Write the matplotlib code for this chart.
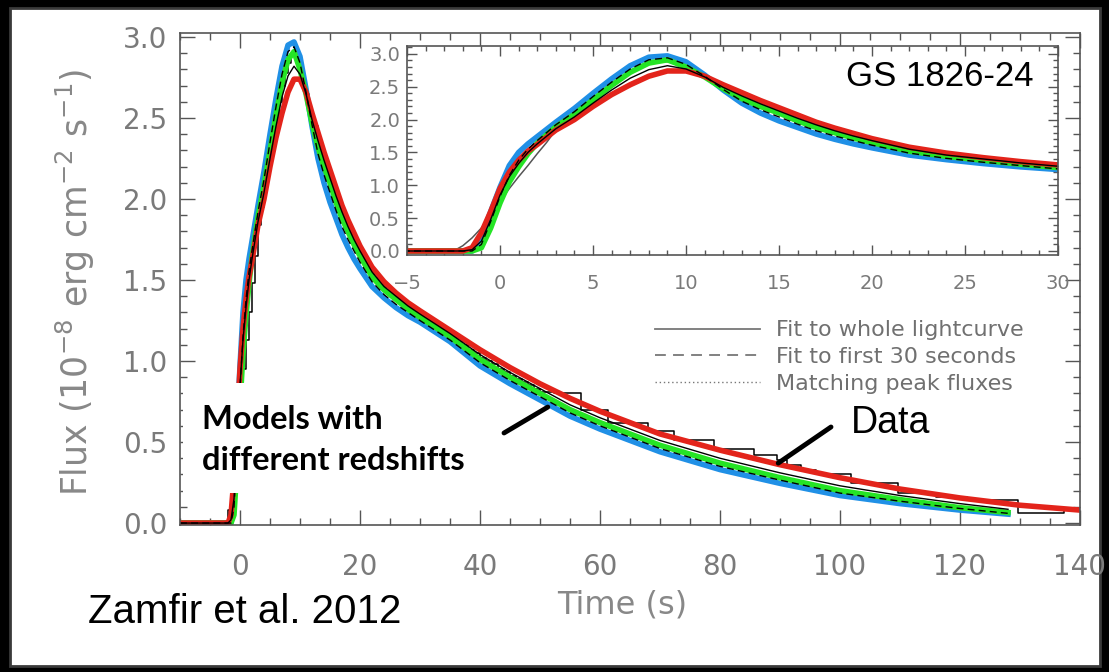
#=========================================================================
# Burst lightcurve of GS 1826-24 with model fits (Zamfir et al. 2012)
#=========================================================================

import matplotlib
matplotlib.use('Agg')
import matplotlib.pyplot as plt
from matplotlib.lines import Line2D
from matplotlib.patches import Rectangle
from matplotlib.ticker import MultipleLocator, FormatStrFormatter

# Model time grids (s)
t_short = [-10, -2.5, -2, -1.5, -1, -0.5, 0, 0.5, 1, 1.5, 2, 3, 4, 5, 6, 7, 8, 9,
           10, 11, 12, 13, 14, 15, 16, 17, 18, 19, 20, 22, 24, 26, 28, 30, 35,
           40, 45, 50, 55, 60, 70, 80, 90, 100, 110, 120, 128]
t_long = [-10, -2.5, -2, -1.5, -1, -0.5, 0, 0.5, 1, 1.5, 2, 3, 4, 5, 6, 7, 8, 9,
          10, 11, 12, 13, 14, 15, 16, 17, 18, 19, 20, 22, 24, 26, 28, 30, 35,
          40, 45, 50, 55, 60, 70, 80, 90, 100, 110, 120, 130, 140]

# Model fluxes (1e-8 erg cm^-2 s^-1) for the three redshifts
flux_blue = [0, 0, 0, 0, 0.2, 0.6, 0.97, 1.3, 1.5, 1.63, 1.74, 1.96, 2.17, 2.4,
             2.62, 2.82, 2.95, 2.97, 2.88, 2.68, 2.45, 2.25, 2.1, 1.98, 1.88,
             1.78, 1.7, 1.63, 1.57, 1.46, 1.39, 1.33, 1.28, 1.24, 1.12, 0.97,
             0.86, 0.76, 0.66, 0.58, 0.44, 0.33, 0.245, 0.17, 0.12, 0.08, 0.055]
flux_green = [0, 0, 0, 0, 0.05, 0.35, 0.73, 1.05, 1.28, 1.48, 1.64, 1.89, 2.08,
              2.3, 2.52, 2.72, 2.86, 2.91, 2.8, 2.65, 2.47, 2.32, 2.2, 2.1, 1.98,
              1.88, 1.8, 1.72, 1.65, 1.52, 1.44, 1.38, 1.32, 1.27, 1.15, 1.01,
              0.9, 0.8, 0.7, 0.62, 0.48, 0.37, 0.28, 0.2, 0.145, 0.095, 0.065]
flux_red = [0, 0, 0, 0.05, 0.28, 0.6, 0.95, 1.2, 1.38, 1.52, 1.62, 1.84, 2.0,
            2.2, 2.38, 2.53, 2.66, 2.74, 2.74, 2.66, 2.53, 2.41, 2.29, 2.18,
            2.07, 1.96, 1.87, 1.79, 1.71, 1.58, 1.49, 1.42, 1.36, 1.31, 1.19,
            1.07, 0.96, 0.86, 0.77, 0.69, 0.55, 0.45, 0.36, 0.28, 0.21, 0.155,
            0.11, 0.08]

# Black fit curves drawn over the coloured bands
fit_whole = [0, 0, 0, 0.02, 0.15, 0.48, 0.85, 1.13, 1.33, 1.5, 1.63, 1.86, 2.04,
             2.25, 2.45, 2.63, 2.76, 2.82, 2.77, 2.65, 2.49, 2.36, 2.24, 2.13,
             2.02, 1.92, 1.83, 1.75, 1.68, 1.55, 1.46, 1.4, 1.34, 1.29, 1.17,
             1.04, 0.93, 0.83, 0.73, 0.65, 0.51, 0.4, 0.31, 0.23, 0.17, 0.12,
             0.085]
fit_first30 = [0, 0, 0, 0, 0.1, 0.45, 0.83, 1.15, 1.38, 1.55, 1.68, 1.92, 2.12,
               2.35, 2.57, 2.77, 2.91, 2.94, 2.84, 2.66, 2.46, 2.28, 2.15, 2.04,
               1.93, 1.83, 1.75, 1.68, 1.61, 1.49, 1.41, 1.35, 1.3, 1.25, 1.13,
               0.99, 0.88, 0.78, 0.68, 0.6, 0.46, 0.35, 0.265, 0.185, 0.135,
               0.09, 0.06]

# Observed lightcurve (bin left edges, binned flux)
data_t = [-10, -2.5, -2, -1.5, -1, -0.5, 0, 0.5, 1, 1.5, 2, 2.5, 3, 3.5, 4, 4.5,
          5, 5.5, 6, 6.5, 7, 7.5, 8, 8.5, 9, 9.5, 10, 10.5, 11, 11.5,
          12, 13, 14, 15, 16, 17, 18, 19, 20, 21, 22, 23, 24, 25, 26, 27, 28,
          29, 30, 31, 32, 33, 34, 35, 36, 37, 38, 39, 40, 41, 42, 43, 44, 45,
          46, 47, 48, 49, 50,
          52.3, 56.8, 61.3, 68, 72.3, 79, 85.7, 89.5, 91.2, 93.5, 96, 101.8,
          109.6, 116, 121.2, 129.6, 137.4, 140]
data_f = [0, 0, 0.08, 0.2, 0.35, 0.55, 0.75, 0.95, 1.13, 1.3, 1.48, 1.65, 1.84,
          1.95, 2.06, 2.17, 2.28, 2.4, 2.5, 2.6, 2.7, 2.78, 2.84, 2.88, 2.88,
          2.85, 2.8, 2.73, 2.65, 2.56,
          2.45, 2.32, 2.2, 2.09, 1.98, 1.88, 1.8, 1.72, 1.65, 1.59, 1.54, 1.5,
          1.46, 1.42, 1.39, 1.36, 1.33, 1.3, 1.27, 1.25, 1.22, 1.2, 1.17, 1.15,
          1.12, 1.1, 1.07, 1.05, 1.02, 1.0, 0.98, 0.95, 0.93, 0.91, 0.89, 0.87,
          0.85, 0.83, 0.81,
          0.8, 0.70, 0.62, 0.57, 0.51, 0.46, 0.42, 0.39, 0.36, 0.33, 0.30, 0.25,
          0.185, 0.16, 0.14, 0.06, 0.08, 0.08]

legend_labels = ['Fit to whole lightcurve', 'Fit to first 30 seconds',
                 'Matching peak fluxes']

BLUE = '#2090e6'
GREEN = '#25e425'
RED = '#e3241b'
AXC = '#555555'
TXT = '#7a7a7a'

W, H = 1109, 672


def draw_curves(ax, lw_band, data_color, data_style):
    """Plot the model bands, black fits and the binned data on an axis."""

    ax.plot(data_t, data_f, color=data_color, lw=1.1, drawstyle=data_style,
            zorder=1.8)
    ax.plot(t_short, flux_blue, color=BLUE, lw=lw_band, solid_joinstyle='round')
    ax.plot(t_short, flux_green, color=GREEN, lw=lw_band, solid_joinstyle='round')
    ax.plot(t_long, flux_red, color=RED, lw=lw_band, solid_joinstyle='round')
    ax.plot(t_short, fit_whole, color='black', lw=1.0)
    ax.plot(t_short, fit_first30, color='black', lw=1.0, ls=(0, (5, 3)))


def style_axis(ax, size, major, minor, xpad, ypad):
    ax.tick_params(which='both', direction='in', top=True, right=True,
                   color=AXC, labelcolor=TXT, width=1)
    ax.tick_params(which='major', length=major, labelsize=size)
    ax.tick_params(which='minor', length=minor)
    ax.tick_params(axis='x', pad=xpad)
    ax.tick_params(axis='y', pad=ypad)
    for sp in ax.spines.values():
        sp.set_color(AXC)
        sp.set_linewidth(1.2)


fig = plt.figure(figsize=(W / 100, H / 100), dpi=100, facecolor='black')

# White slide panel
fig.patches.append(Rectangle((10 / W, 1 - 666 / H), 1090 / W, 658 / H,
                             transform=fig.transFigure, facecolor='white',
                             edgecolor='#3a3a3a', lw=2, zorder=-5))

# Main axes
ax = fig.add_axes([180 / W, 1 - 525 / H, 900 / W, 492 / H])
ax.set_facecolor('none')
draw_curves(ax, 4, 'black', 'steps-post')
ax.set_xlim(-10, 140)
ax.set_ylim(-0.012, 3.025)
ax.xaxis.set_major_locator(MultipleLocator(20))
ax.xaxis.set_minor_locator(MultipleLocator(5))
ax.yaxis.set_major_locator(MultipleLocator(0.5))
ax.yaxis.set_minor_locator(MultipleLocator(0.1))
ax.yaxis.set_major_formatter(FormatStrFormatter('%.1f'))
style_axis(ax, 20, 11, 5, 20, 9)

handles = [Line2D([], [], color='#777777', lw=1.3),
           Line2D([], [], color='#777777', lw=1.3, ls=(0, (6, 4))),
           Line2D([], [], color='#777777', lw=1.0, ls=(0, (1, 2)))]
ax.legend(handles, legend_labels, loc='upper left', bbox_to_anchor=(0.528, 0.416),
          frameon=False, fontsize=16, handlelength=4.7, handletextpad=0.75,
          labelspacing=0.3, borderpad=0, borderaxespad=0, labelcolor='#707070')

# White box with the model annotation
ax.add_patch(Rectangle((0.0035, 0.065), 0.355, 0.224, transform=ax.transAxes,
                       facecolor='white', edgecolor='none', zorder=5))
ax.text(0.0244, 0.172, 'Models with\ndifferent redshifts', transform=ax.transAxes,
        fontsize=23.5, fontweight='bold', family=['Lato', 'DejaVu Sans'],
        va='center', ha='left', linespacing=1.5, zorder=6)
ax.annotate('', xy=(51.3, 0.716), xytext=(44, 0.556),
            arrowprops=dict(arrowstyle='-', lw=3.5, color='black',
                            shrinkA=0, shrinkB=0), zorder=7)

ax.text(101.8, 0.617, 'Data', fontsize=27, family=['Liberation Sans'],
        va='center', ha='left', zorder=6)
ax.annotate('', xy=(89.7, 0.37), xytext=(98.5, 0.593),
            arrowprops=dict(arrowstyle='-', lw=3.5, color='black',
                            shrinkA=0, shrinkB=0), zorder=7)

# Inset zoom on the rise
ins = fig.add_axes([407 / W, 1 - 255 / H, 651 / W, 209 / H])
draw_curves(ins, 4, '#555555', 'default')
ins.set_xlim(-5, 30)
ins.set_ylim(-0.061, 3.12)
ins.xaxis.set_major_locator(MultipleLocator(5))
ins.xaxis.set_minor_locator(MultipleLocator(1))
ins.yaxis.set_major_locator(MultipleLocator(0.5))
ins.yaxis.set_minor_locator(MultipleLocator(0.1))
ins.yaxis.set_major_formatter(FormatStrFormatter('%.1f'))
style_axis(ins, 14, 7, 3.5, 14, 5)
ins.text(0.962, 0.852, 'GS 1826-24', transform=ins.transAxes, fontsize=25,
         family=['Liberation Sans'], ha='right', va='center')

# Axis titles and citation
fig.text(75 / W, 1 - 282 / H, 'Flux (10$^{-8}$ erg cm$^{-2}$ s$^{-1}$)',
         rotation=90, ha='center', va='center', fontsize=25, color='#888888')
fig.text(622 / W, 1 - 605 / H, 'Time (s)', ha='center', va='center',
         fontsize=23, color='#888888')
fig.text(88 / W, 1 - 612 / H, 'Zamfir et al. 2012', ha='left', va='center',
         fontsize=29, family=['Liberation Sans'], color='black')

fig.savefig('out.png', dpi=100, facecolor=fig.get_facecolor())
